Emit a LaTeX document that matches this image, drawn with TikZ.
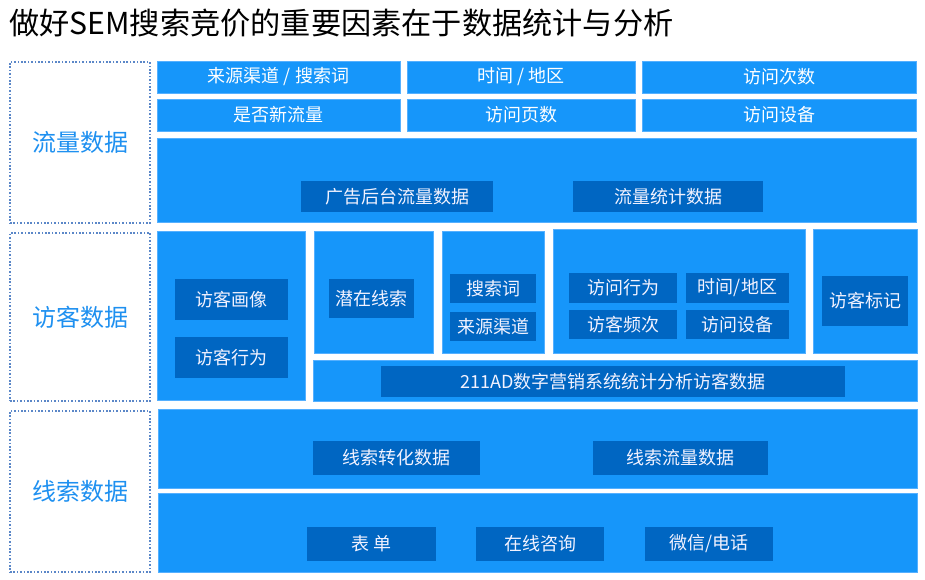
\documentclass[tikz,border=0pt]{standalone}
\usepackage{fontspec}
\setmainfont{Noto Sans CJK SC}
\definecolor{lblue}{HTML}{1696FA}
\definecolor{lline}{HTML}{55B0FF}
\definecolor{dblue}{HTML}{0066C2}
\definecolor{sidetxt}{HTML}{1E90F0}
\definecolor{dotc}{HTML}{5B87C8}
\tikzset{
  base/.style={inner sep=0pt, outer sep=0pt, anchor=north west, align=center},
  lbox/.style={base, fill=lblue, draw=lline, line width=0.6pt, text=white, font=\fontsize{18}{20}\selectfont},
  dbox/.style={base, fill=dblue, text=white!95!blue, font=\fontsize{18}{20}\selectfont},
  side/.style={base, draw=dotc, line width=1.3pt, dash pattern=on 1.6pt off 1.8pt, text=sidetxt, font=\fontsize{24}{26}\selectfont},
}
\newcommand\rbox[7]{\node[#2, minimum width={(#5-#3)*1pt}, minimum height={(#6-#4)*1pt}] (#1) at (#3,#4) {#7};}
\begin{document}
\begin{tikzpicture}[x=1pt,y=-1pt]
\useasboundingbox (0,0) rectangle (925,580);
\node[anchor=west, inner sep=0pt, font=\fontsize{30.2}{32}\selectfont] (title) at (9,23) {做好SEM搜索竞价的重要因素在于数据统计与分析};
% side labels
\rbox{s1}{side}{10}{62}{150}{223}{流量数据}
\rbox{s2}{side}{10}{233}{150}{401}{访客数据}
\rbox{s3}{side}{10}{411}{150}{572}{线索数据}
% traffic
\rbox{a1}{lbox}{157}{61}{400}{93}{来源渠道 / 搜索词}
\rbox{a2}{lbox}{407}{61}{635}{93}{时间 / 地区}
\rbox{a3}{lbox}{642}{61}{916}{93}{访问次数}
\rbox{b1}{lbox}{157}{99}{400}{131}{是否新流量}
\rbox{b2}{lbox}{407}{99}{635}{131}{访问页数}
\rbox{b3}{lbox}{642}{99}{916}{131}{访问设备}
\rbox{c0}{lbox}{157}{138}{916}{222}{}
\rbox{c1}{dbox}{301}{181}{493}{212}{广告后台流量数据}
\rbox{c2}{dbox}{573}{181}{763}{212}{流量统计数据}
% visitors
\rbox{vA}{lbox}{157}{231}{305}{400}{}
\rbox{vA1}{dbox}{175}{279}{288}{320}{访客画像}
\rbox{vA2}{dbox}{175}{337}{288}{378}{访客行为}
\rbox{vB}{lbox}{314}{231}{433}{353}{}
\rbox{vB1}{dbox}{329}{279}{414}{318}{潜在线索}
\rbox{vC}{lbox}{442}{231}{544}{353}{}
\rbox{vC1}{dbox}{450}{274}{536}{303}{搜索词}
\rbox{vC2}{dbox}{450}{312}{536}{341}{来源渠道}
\rbox{vD}{lbox}{553}{229}{805}{353}{}
\rbox{vD1}{dbox}{569}{273}{677}{303}{访问行为}
\rbox{vD2}{dbox}{686}{273}{789}{303}{时间/地区}
\rbox{vD3}{dbox}{569}{310}{677}{339}{访客频次}
\rbox{vD4}{dbox}{686}{310}{789}{339}{访问设备}
\rbox{vE}{lbox}{813}{229}{917}{353}{}
\rbox{vE1}{dbox}{822}{276}{908}{326}{访客标记}
\rbox{vF}{lbox}{313}{360}{917}{401}{}
\rbox{vF1}{dbox}{381}{366}{845}{397}{211AD数字营销系统统计分析访客数据}
% leads
\rbox{g0}{lbox}{158}{409}{917}{488}{}
\rbox{g1}{dbox}{313}{441}{480}{475}{线索转化数据}
\rbox{g2}{dbox}{593}{441}{768}{475}{线索流量数据}
\rbox{h0}{lbox}{158}{493}{917}{572}{}
\rbox{h1}{dbox}{307}{527}{436}{561}{表 单}
\rbox{h2}{dbox}{476}{527}{604}{561}{在线咨询}
\rbox{h3}{dbox}{645}{527}{773}{561}{微信/电话}
\end{tikzpicture}
\end{document}
